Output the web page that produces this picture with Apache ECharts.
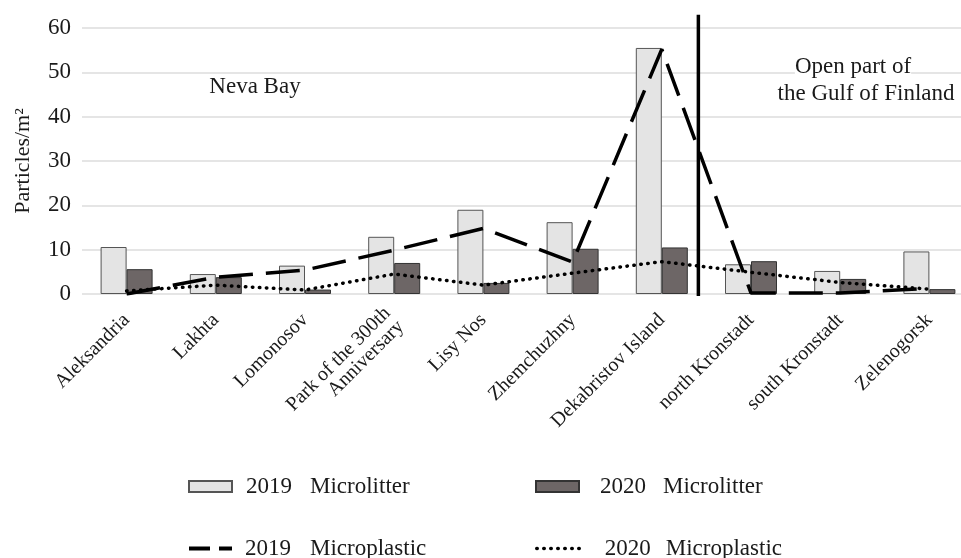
<!DOCTYPE html>
<html><head><meta charset="utf-8">
<script src="https://cdn.jsdelivr.net/npm/echarts@6/dist/echarts.min.js"></script>
<style>html,body{margin:0;padding:0;background:#fff}#c{width:961px;height:558px}</style>
</head><body><div id="c"></div>
<script>
const categories = ['Aleksandria','Lakhta','Lomonosov','Park of the 300th\nAnniversary','Lisy Nos','Zhemchuzhny','Dekabristov Island','north Kronstadt','south Kronstadt','Zelenogorsk'];
const microlitter2019 = [10.6, 4.5, 6.4, 12.9, 19.0, 16.2, 55.5, 6.7, 5.2, 9.6];
const microlitter2020 = [5.6, 3.8, 1.0, 7.0, 2.5, 10.2, 10.5, 7.4, 3.4, 1.1];
const microplastic2019 = [0.0, 3.8, 5.4, 9.9, 14.8, 7.2, 55.2, 0.2, 0.2, 1.3];
const microplastic2020 = [0.7, 2.0, 0.9, 4.5, 2.0, 4.7, 7.3, 4.9, 2.6, 1.1];
const yMin = 0, yMax = 60, yStep = 10;
const dividerAt = 6.41;      // boundary between the two areas, in category-index units
const dividerTop = 63;       // value at which the divider line ends

const FONT = '"Liberation Serif","Times New Roman",serif';
const INK = '#1a1a1a';

const chart = echarts.init(document.getElementById('c'));

function legendAt(name, left, top, textGap, numWidth, extra) {
  return Object.assign({
    data: [name], left: left, top: top, itemWidth: 43, itemHeight: 11,
    selectedMode: false, padding: 0,
    formatter: n => '{y|' + n.slice(0, 4) + '}{n|' + n.slice(5) + '}',
    textStyle: {
      fontFamily: FONT, fontSize: 23, color: INK,
      rich: {
        y: { fontFamily: FONT, fontSize: 23, color: INK, width: numWidth, padding: [0, 0, 0, textGap] },
        n: { fontFamily: FONT, fontSize: 23, color: INK }
      }
    }
  }, extra || {});
}

const option = {
  animation: false,
  backgroundColor: '#fff',
  grid: { left: 82, top: 28, width: 892, height: 266, outerBoundsMode: 'none', containLabel: false },
  xAxis: [
    {
      type: 'category', data: categories,
      axisLine: { show: false }, axisTick: { show: false },
      axisLabel: { rotate: 45, interval: 0, fontSize: 20, fontFamily: FONT, color: INK, margin: 23, lineHeight: 19 }
    },
    { type: 'value', min: -0.5, max: categories.length - 0.5, show: false }
  ],
  yAxis: {
    type: 'value', min: yMin, max: yMax, interval: yStep,
    axisLine: { show: false }, axisTick: { show: false },
    splitLine: { lineStyle: { color: '#dcdcdc', width: 1.5 } },
    axisLabel: { fontSize: 23, fontFamily: FONT, color: INK, margin: 11 },
    name: 'Particles/m²', nameLocation: 'middle', nameGap: 48,
    nameTextStyle: { fontSize: 22, fontFamily: FONT, color: INK }
  },
  legend: [
    legendAt('2019 Microlitter', 188, 475, 9, 64, { icon: 'rect' }),
    legendAt('2020 Microlitter', 535, 475, 16, 63, { icon: 'rect' }),
    legendAt('2019 Microplastic', 187, 537, 8, 65, { itemStyle: { opacity: 0 }, lineStyle: { type: [21, 9], width: 4, color: '#000' } }),
    legendAt('2020 Microplastic', 535, 537, 20, 61, { itemStyle: { opacity: 0 }, lineStyle: { type: [0.5, 6.5], cap: 'round', width: 3.5, color: '#000' } })
  ],
  series: [
    {
      name: '2019 Microlitter', type: 'bar', data: microlitter2019, barWidth: 26, barGap: '0%',
      itemStyle: { color: '#e4e4e4', borderColor: '#555', borderWidth: 1 }
    },
    {
      name: '2020 Microlitter', type: 'bar', data: microlitter2020, barWidth: 26,
      itemStyle: { color: '#6d6666', borderColor: '#333', borderWidth: 1 }
    },
    {
      name: '2019 Microplastic', type: 'line', data: microplastic2019, symbol: 'none', z: 5,
      lineStyle: { color: '#000', width: 3.5, type: [34, 13] }, itemStyle: { color: '#000' }
    },
    {
      name: '2020 Microplastic', type: 'line', data: microplastic2020, symbol: 'none', z: 5,
      lineStyle: { color: '#000', width: 3.5, type: [0.5, 6.5], cap: 'round' }, itemStyle: { color: '#000' }
    }
  ]
};
option.graphic = [
  { type: 'text', x: 255, y: 87, style: { text: 'Neva Bay', font: '23px ' + FONT, fill: INK, align: 'center', verticalAlign: 'middle' } },
  { type: 'text', x: 853, y: 67, z: 50, style: { text: 'Open part of', font: '23px ' + FONT, fill: INK, align: 'center', verticalAlign: 'middle', backgroundColor: '#fff' } },
  { type: 'text', x: 866, y: 94, z: 50, style: { text: 'the Gulf of Finland', font: '23px ' + FONT, fill: INK, align: 'center', verticalAlign: 'middle', backgroundColor: '#fff' } }
];
chart.setOption(option);

const dx = chart.convertToPixel({ xAxisIndex: 1 }, dividerAt);
const dy0 = chart.convertToPixel({ yAxisIndex: 0 }, yMin);
const dy1 = chart.convertToPixel({ yAxisIndex: 0 }, dividerTop);
option.graphic.push({ type: 'line', z: 100, shape: { x1: dx, y1: dy0 + 2, x2: dx, y2: dy1 }, style: { stroke: '#000', lineWidth: 3.5 } });
chart.setOption({ graphic: option.graphic });
</script>
</body></html>
